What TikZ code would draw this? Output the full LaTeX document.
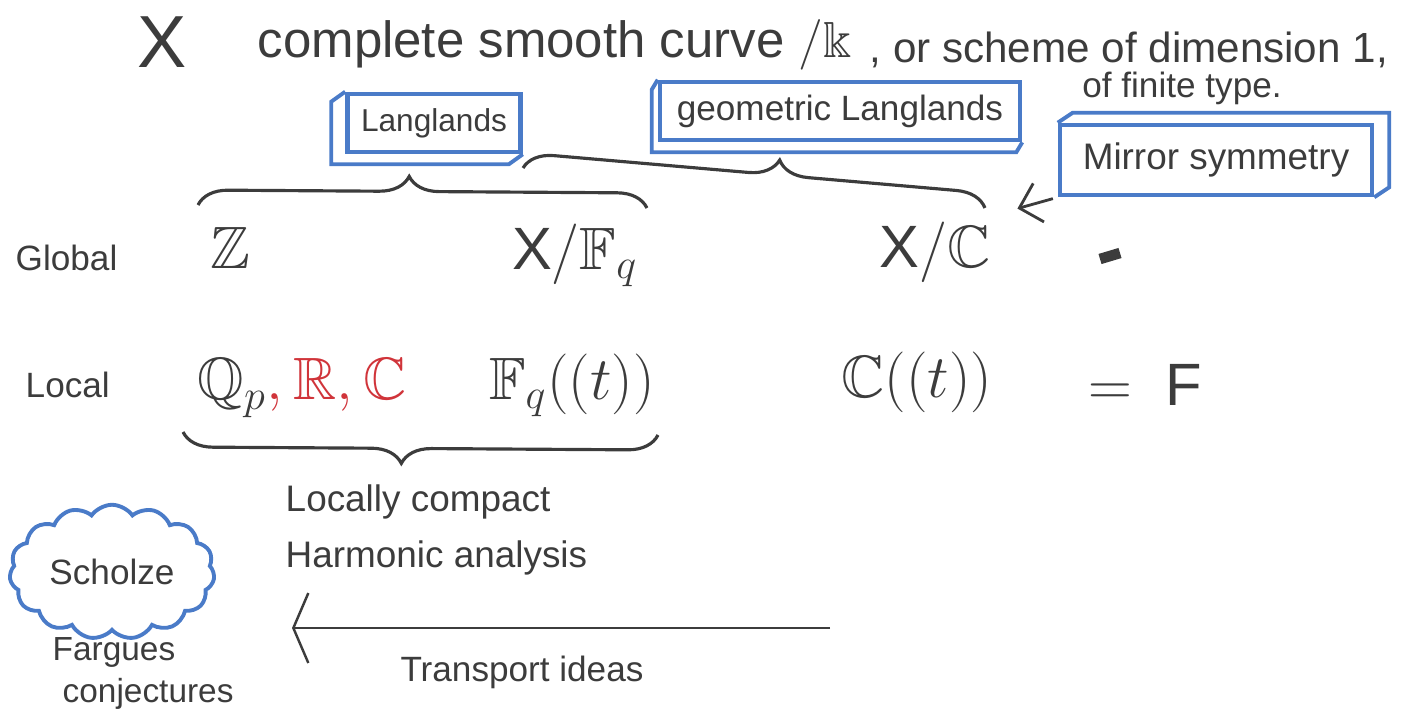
\documentclass[tikz,border=0pt]{standalone}
\usepackage{fontspec}
\setmainfont{Liberation Sans}
\usepackage{amsmath,amssymb}
\usetikzlibrary{
  arrows.meta,
  positioning,
  calc,
  decorations.pathreplacing,
  shapes.symbols
}
\definecolor{inkgray}{HTML}{3C3C3C}
\definecolor{penblue}{HTML}{4A7BC8}
\definecolor{penred}{HTML}{D0343A}

\begin{document}
\begin{tikzpicture}[
    every node/.style={font=\fontsize{10}{12}\selectfont, text=inkgray, inner sep=2pt},
    topline/.style={font=\fontsize{14.5}{18}\selectfont, anchor=west},
    bigmath/.style={font=\fontsize{17}{20}\selectfont},
    rowlabel/.style={font=\fontsize{10}{12}\selectfont, anchor=west},
    notebox/.style={draw=penblue, line width=1.3pt, minimum height=0.58cm, align=center},
    boxdepth/.style={draw=penblue, line width=1.1pt},
    bracestyle/.style={draw=inkgray, line width=0.9pt, decorate,
                       decoration={brace, amplitude=0.3cm, aspect=#1}},
    bracestyle/.default=0.5,
    inkarrow/.style={draw=inkgray, line width=0.8pt, -{Straight Barb[length=2mm, width=4mm]}},
    longarrow/.style={draw=inkgray, line width=0.7pt, -{Straight Barb[length=1.5mm, width=7mm]}},
]
\useasboundingbox (0,0) rectangle (14.26,-7.19);

% --- Top line ---
\node[font=\fontsize{21}{24}\selectfont] (X) at (1.62,-0.42) {X};
\node[topline] (curve) at (2.50,-0.45) {complete smooth curve $/\Bbbk$};
\node[topline, font=\fontsize{12}{15}\selectfont] (scheme) at (8.62,-0.50) {, or scheme of dimension 1,};
\node (finite) at (11.82,-0.88) {of finite type.};

% --- Boxes ---
\node[notebox, minimum width=1.73cm, font=\fontsize{9}{11}\selectfont] (langlands) at (4.34,-1.23) {Langlands};
\node[notebox, minimum width=3.60cm] (geom) at (8.40,-1.11) {geometric Langlands};
\node[notebox, minimum width=3.12cm, minimum height=0.70cm, font=\fontsize{10.5}{12}\selectfont] (mirror) at (12.16,-1.60) {Mirror symmetry};

\draw[boxdepth] (langlands.north west) -- ++(-0.14,-0.10) |- ($(langlands.south east)+(-0.14,-0.10)$) -- (langlands.south east);
\draw[boxdepth] (geom.north west) -- ++(-0.06,-0.10) |- ($(geom.south east)+(-0.06,-0.10)$) -- (geom.south east);
\draw[boxdepth] (mirror.north west) -- ++(0.15,0.10) -| ($(mirror.south east)+(0.15,0.10)$) -- (mirror.south east);

% --- Global row ---
\node[rowlabel] (global) at (0.08,-2.58) {Global};
\node[bigmath] (Z) at (2.30,-2.48) {$\mathbb{Z}$};
\node[bigmath] (XF) at (5.75,-2.55) {$\mathrm{X}/\mathbb{F}_q$};
\node[bigmath] (XC) at (9.35,-2.52) {$\mathrm{X}/\mathbb{C}$};
\draw[inkgray, line width=3pt] (11.00,-2.59) -- (11.20,-2.53);

% --- Local row ---
\node[rowlabel] (local) at (0.18,-3.85) {Local};
\node[bigmath, anchor=west] (Qp) at (1.90,-3.88) {$\mathbb{Q}_p$\textcolor{penred}{$,\mathbb{R},\mathbb{C}$}};
\node[bigmath] (Fqt) at (5.72,-3.85) {$\mathbb{F}_q((t))$};
\node[bigmath] (Ct) at (9.17,-3.82) {$\mathbb{C}((t))$};
\node[bigmath] (eqF) at (11.45,-3.85) {$=\ \mathrm{F}$};

% --- Braces ---
\coordinate (b1l) at (1.98,-2.05);
\coordinate (b1r) at (6.47,-2.08);
\coordinate (b2l) at (5.23,-1.68);
\coordinate (b2r) at (9.85,-2.08);
\coordinate (b3l) at (1.83,-4.32);
\coordinate (b3r) at (6.58,-4.35);
\draw[bracestyle=0.47] (b1l) -- (b1r);
\draw[bracestyle=0.55] (b2l) -- (b2r);
\draw[bracestyle=0.54] (b3r) -- (b3l);

% --- Mirror symmetry arrow ---
\draw[inkarrow, shorten <=0.05cm, shorten >=0.2cm] (mirror.south west) -- (XC.north east);

% --- Harmonic analysis ---
\node[anchor=west, font=\fontsize{10.5}{12}\selectfont] (lc) at (2.78,-5.02) {Locally compact};
\node[anchor=west, font=\fontsize{10.5}{12}\selectfont] (ha) at (2.78,-5.58) {Harmonic analysis};

% --- Scholze cloud ---
\node[cloud, cloud puffs=15, cloud puff arc=110, aspect=1.7, draw=penblue, line width=1.1pt,
      minimum width=1.95cm, minimum height=1.1cm] (scholze) at (1.12,-5.72) {Scholze};
\node[align=left, anchor=north west, font=\fontsize{9.5}{12}\selectfont] (fargues) at (0.45,-6.30) {Fargues\\\hspace*{0.1cm}conjectures};

% --- Transport ---
\coordinate (tfrom) at (8.30,-6.28);
\coordinate (tto) at (2.92,-6.28);
\draw[longarrow] (tfrom) -- (tto);
\node (transport) at (5.22,-6.72) {Transport ideas};

\end{tikzpicture}
\end{document}
